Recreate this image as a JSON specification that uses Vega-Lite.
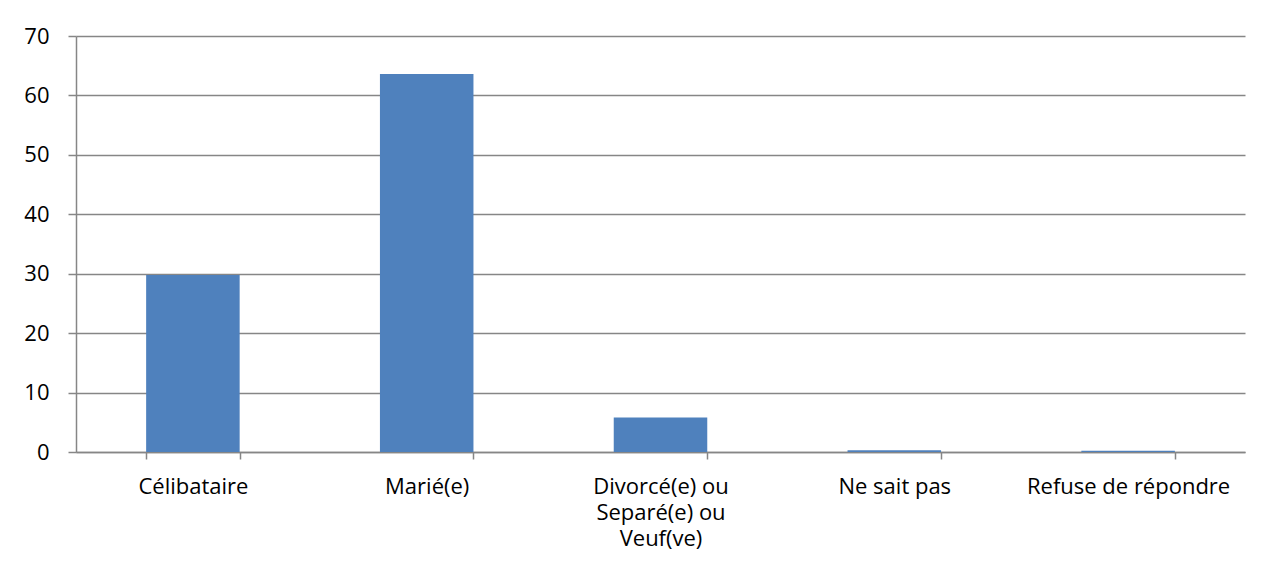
{
  "$schema": "https://vega.github.io/schema/vega-lite/v6.json",
  "autosize": {"type": "none"},
  "width": 1169,
  "height": 416,
  "padding": {"left": 76, "top": 36, "right": 34, "bottom": 125},
  "background": "white",
  "data": {"values": [
    {"statut": "Célibataire", "valeur": 29.8},
    {"statut": "Marié(e)", "valeur": 63.6},
    {"statut": "Divorcé(e) ou Separé(e) ou Veuf(ve)", "valeur": 5.8},
    {"statut": "Ne sait pas", "valeur": 0.3},
    {"statut": "Refuse de répondre", "valeur": 0.2}
  ]},
  "mark": {"type": "bar", "color": "#4F81BD"},
  "encoding": {
    "x": {
      "field": "statut", "type": "nominal", "sort": null,
      "scale": {"paddingInner": 0.6, "paddingOuter": 0.3},
      "axis": {
        "title": null, "labelAngle": 0, "tickBand": "extent", "labelLimit": 300,
        "labelExpr": "datum.value == 'Divorcé(e) ou Separé(e) ou Veuf(ve)' ? ['Divorcé(e) ou', 'Separé(e) ou', 'Veuf(ve)'] : datum.value",
        "labelLineHeight": 26, "labelPadding": 17, "tickSize": 7,
        "domainColor": "#868686", "tickColor": "#868686", "grid": false
      }
    },
    "y": {
      "field": "valeur", "type": "quantitative",
      "scale": {"domain": [0, 70], "nice": false},
      "axis": {
        "title": null, "values": [0, 10, 20, 30, 40, 50, 60, 70],
        "tickSize": 8, "labelPadding": 19, "grid": true,
        "gridColor": "#868686", "domainColor": "#868686", "tickColor": "#868686"
      }
    }
  },
  "config": {
    "view": {"stroke": null},
    "axis": {"labelFont": "Open Sans", "labelFontSize": 22, "labelColor": "#000000", "domainWidth": 1.5, "tickWidth": 1.5, "gridWidth": 1.3}
  }
}
